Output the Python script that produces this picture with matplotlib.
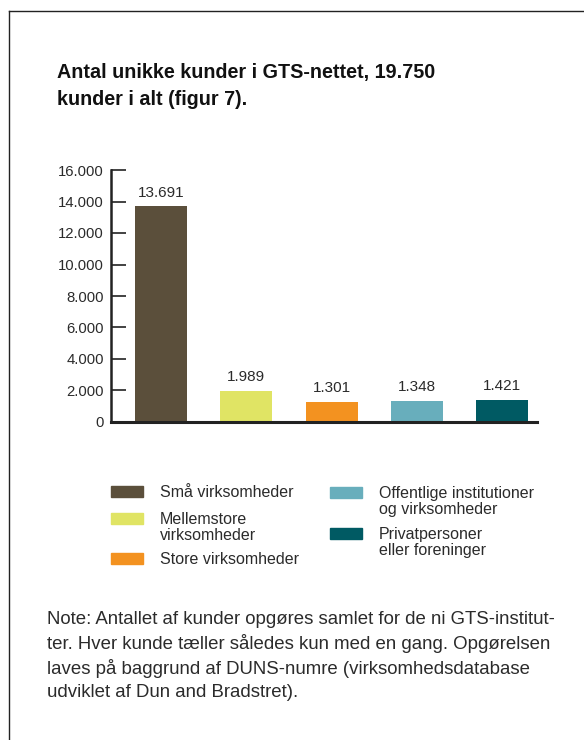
import matplotlib.pyplot as plt
from matplotlib.patches import Rectangle
from matplotlib.lines import Line2D

plt.rcParams['font.family'] = ['Liberation Sans', 'DejaVu Sans']

# ---- DATA ----
categories = ["Små virksomheder", "Mellemstore\nvirksomheder", "Store virksomheder",
              "Offentlige institutioner\nog virksomheder", "Privatpersoner\neller foreninger"]
values = [13691, 1989, 1301, 1348, 1421]
value_labels = ["13.691", "1.989", "1.301", "1.348", "1.421"]
colors = ["#5B4F3B", "#E0E464", "#F39220", "#68AEBC", "#005A63"]
yticks = [0, 2000, 4000, 6000, 8000, 10000, 12000, 14000, 16000]
ytick_labels = ["0", "2.000", "4.000", "6.000", "8.000", "10.000", "12.000", "14.000", "16.000"]

title = "Antal unikke kunder i GTS-nettet, 19.750\nkunder i alt (figur 7)."
note = ("Note: Antallet af kunder opgøres samlet for de ni GTS-institut-\n"
        "ter. Hver kunde tæller således kun med en gang. Opgørelsen\n"
        "laves på baggrund af DUNS-numre (virksomhedsdatabase\n"
        "udviklet af Dun and Bradstret).")

W, H = 584, 740
TXT = "#2b2b2b"

fig = plt.figure(figsize=(W / 100, H / 100), dpi=100)

def fx(px):
    return px / W

def fy(py):
    return 1 - py / H

# outer frame (top + left)
fig.add_artist(Line2D([fx(9), 1], [fy(11), fy(11)], color="#222222", lw=1.0))
fig.add_artist(Line2D([fx(9), fx(9)], [fy(11), 0], color="#222222", lw=1.0))

fig.text(fx(57), fy(63), title, fontsize=14.2, fontweight="bold", color="#111111",
         va="top", ha="left", linespacing=1.55)

# ---- bar chart ----
ax = fig.add_axes([fx(111), fy(422), fx(537) - fx(111), fy(170) - fy(422)])
x = range(len(values))
bars = ax.bar(x, values, width=0.61, color=colors)
for b, lab in zip(bars, value_labels):
    ax.text(b.get_x() + b.get_width() / 2, b.get_height() + 400, lab,
            ha="center", va="bottom", fontsize=11, color=TXT)

ax.set_xlim(-0.587, 4.41)
ax.set_ylim(0, 16000)
ax.set_yticks(yticks)
ax.set_yticklabels(ytick_labels)
ax.set_xticks([])
ax.tick_params(axis="y", direction="in", length=11, width=1.2, labelsize=10.7,
               labelcolor=TXT, color="#222222", pad=5)
for s in ["top", "right"]:
    ax.spines[s].set_visible(False)
ax.spines["left"].set_linewidth(1.8)
ax.spines["bottom"].set_linewidth(2.2)
ax.spines["left"].set_color("#222222")
ax.spines["bottom"].set_color("#222222")
ax.patch.set_alpha(0)

# ---- legend ----
col_x = [111, 330]
row_top = [[486, 513, 553], [487, 528]]
idx = 0
for c in range(2):
    for ry in row_top[c]:
        fig.add_artist(Rectangle((fx(col_x[c]), fy(ry + 11)), fx(32), fy(0) - fy(11),
                                 color=colors[idx], transform=fig.transFigure))
        fig.text(fx(col_x[c] + 49), fy(ry - 1), categories[idx], fontsize=11.5,
                 color=TXT, va="top", ha="left", linespacing=1.12)
        idx += 1

fig.text(fx(47), fy(611), note, fontsize=13.4, color=TXT, va="top", ha="left",
         linespacing=1.41)

fig.savefig("out.png", dpi=100)
